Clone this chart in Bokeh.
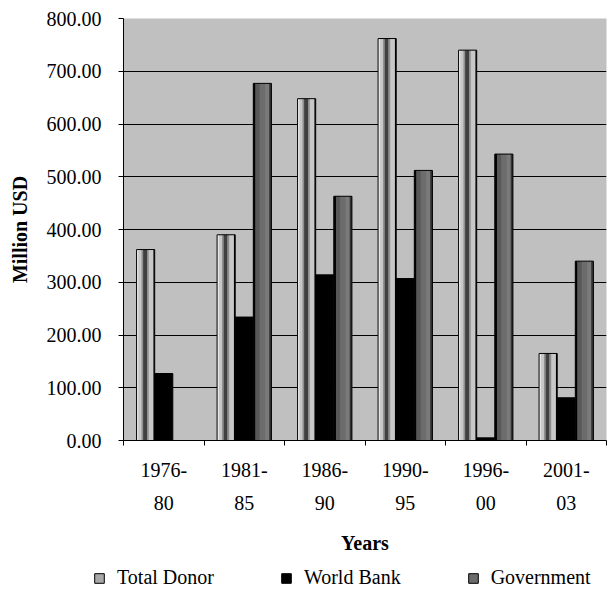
from bokeh.plotting import figure
from bokeh.layouts import column
from bokeh.models import (Range1d, FixedTicker, NumeralTickFormatter, Legend,
                          LegendItem, ColumnDataSource)
from bokeh.transform import dodge
from bokeh.embed import file_html
from bokeh.resources import INLINE

# ---------------- data ----------------
periods = ["1976-80", "1981-85", "1986-90", "1990-95", "1996-00", "2001-03"]
period_labels = ["1976-\n80", "1981-\n85", "1986-\n90", "1990-\n95", "1996-\n00", "2001-\n03"]
total_donor = [362, 390, 648, 762, 740, 165]
world_bank = [127, 234, 314, 307, 5, 81]
government = [0, 677, 463, 512, 543, 340]
y_ticks = [0, 100, 200, 300, 400, 500, 600, 700, 800]
series_names = ["Total Donor", "World Bank", "Government"]

FONT = "Liberation Serif"

xs = [i + 0.5 for i in range(len(periods))]
bounds = list(range(len(periods) + 1))

source = ColumnDataSource(dict(x=xs, period=periods, td=total_donor,
                               wb=world_bank, gov=government))

p = figure(width=613, height=565, output_backend="svg", toolbar_location=None,
           x_range=Range1d(0, len(periods)), y_range=Range1d(0, y_ticks[-1]),
           min_border_left=123, min_border_right=7, min_border_top=18,
           min_border_bottom=125)
p.background_fill_color = "#C0C0C0"
p.border_fill_color = "white"
p.outline_line_color = None

# grid
p.xgrid.visible = False
p.ygrid.ticker = FixedTicker(ticks=y_ticks)
p.ygrid.grid_line_color = "black"
p.ygrid.grid_line_width = 1

# y axis
ya = p.yaxis[0]
ya.ticker = FixedTicker(ticks=y_ticks)
ya.formatter = NumeralTickFormatter(format="0.00")
ya.major_tick_out = 5
ya.major_tick_in = 0
ya.minor_tick_line_color = None
ya.axis_line_color = "black"
ya.major_tick_line_color = "black"
ya.major_label_text_font = FONT
ya.major_label_text_font_size = "20px"
ya.major_label_text_color = "black"
ya.major_label_standoff = 17
ya.axis_label = "Million USD"
ya.axis_label_text_font = FONT
ya.axis_label_text_font_size = "20px"
ya.axis_label_text_font_style = "bold"
ya.axis_label_text_color = "black"
ya.axis_label_standoff = 13

# x axis (labels at centers, ticks at boundaries)
xa = p.xaxis[0]
xa.ticker = FixedTicker(ticks=xs, minor_ticks=bounds)
xa.major_label_overrides = {x: lab for x, lab in zip(xs, period_labels)}
xa.major_tick_out = 5
xa.major_tick_in = 0
xa.major_tick_line_color = None
xa.minor_tick_out = 5
xa.minor_tick_in = 0
xa.minor_tick_line_color = "black"
xa.axis_line_color = "black"
xa.major_label_text_font = FONT
xa.major_label_text_font_size = "20px"
xa.major_label_text_color = "black"
xa.major_label_text_line_height = 1.5
xa.major_label_standoff = 13
xa.axis_label = "Years"
xa.axis_label_text_font = FONT
xa.axis_label_text_font_size = "20px"
xa.axis_label_text_font_style = "bold"
xa.axis_label_text_color = "black"
xa.axis_label_standoff = 15

# ---------------- bars (3D cylinder look via strips) ----------------
BAR_W = 0.225
offsets = [-0.225, 0.0, 0.225]
fields = ["td", "wb", "gov"]
base_colors = ["#C8C8C8", "#000000", "#6C6C6C"]
strips = [
    [(0.00, 0.09, "#F4F4F4"), (0.27, 0.36, "#909090"), (0.36, 0.58, "#404040"),
     (0.58, 0.67, "#8C8C8C"), (0.93, 1.00, "#000000")],
    [],
    [(0.00, 0.12, "#000000"), (0.12, 0.35, "#585858"), (0.65, 0.88, "#7A7A7A"),
     (0.88, 1.00, "#333333")],
]

for field, off, base, st in zip(fields, offsets, base_colors, strips):
    p.vbar(x=dodge("x", off, range=p.x_range), top=field, width=BAR_W, bottom=0,
           source=source, fill_color=base, line_color=None)
    for f0, f1, col in st:
        c = off - BAR_W / 2 + (f0 + f1) / 2 * BAR_W
        p.vbar(x=dodge("x", c, range=p.x_range), top=field, width=(f1 - f0) * BAR_W,
               bottom=0, source=source, fill_color=col, line_color=None)
    p.vbar(x=dodge("x", off, range=p.x_range), top=field, width=BAR_W, bottom=0,
           source=source, fill_color=None, line_color="black", line_width=1)

# ---------------- legend (in its own strip below the chart) ----------------
lp = figure(width=613, height=25, output_backend="svg", toolbar_location=None,
            x_axis_type=None, y_axis_type=None, min_border=0,
            x_range=Range1d(1000, 1001), y_range=Range1d(5000, 5001))
lp.outline_line_color = None
lp.background_fill_color = "white"
lp.border_fill_color = "white"
for fig in (p, lp):
    try:
        fig.frame_align = False
    except Exception:
        pass

legend_fill = ["#A8A8A8", "#000000", "#6C6C6C"]
items = []
for name, field, col in zip(series_names, fields, legend_fill):
    # proxy renderer: its bars lie far outside this strip's ranges, only the swatch shows
    r = lp.vbar(x="x", top=field, bottom=0, width=0.2, source=source,
                fill_color=col, line_color="black", line_width=1)
    items.append(LegendItem(label=name, renderers=[r]))

legend = Legend(items=items, orientation="horizontal", location=(93, 1),
                label_text_font=FONT, label_text_font_size="20px",
                label_text_color="black", glyph_width=12, glyph_height=12,
                label_standoff=12, spacing=66, padding=0, margin=0,
                border_line_color=None, background_fill_alpha=0)
lp.add_layout(legend)

open("out.html", "w").write(file_html(column(p, lp, spacing=0), INLINE))
